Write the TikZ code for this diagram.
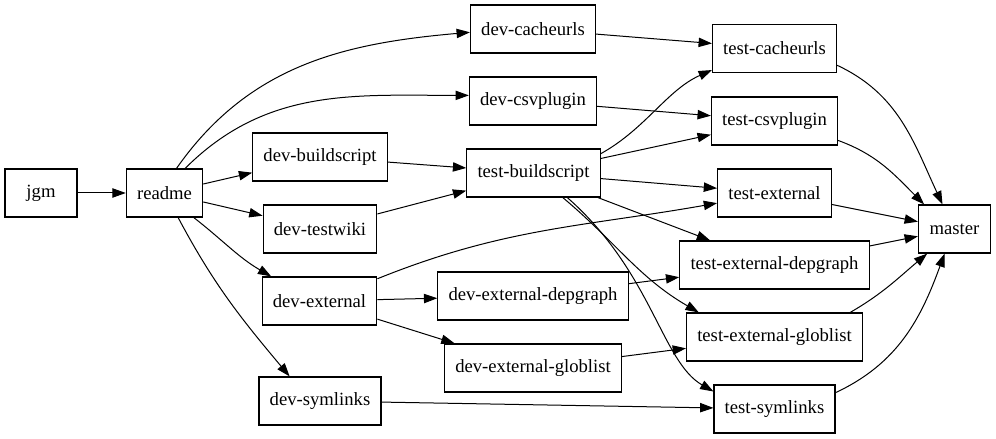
\documentclass[tikz,border=0pt]{standalone}
\usepackage{fontspec}
\setmainfont{Liberation Serif}
\usepackage{tikz}
\usetikzlibrary{arrows.meta}
\tikzset{
  box/.style={draw, line width=0.9pt, minimum width=54pt, minimum height=36pt,
    inner xsep=8pt, font=\fontsize{14}{16}\selectfont},
  edge/.style={line width=0.75pt, -{Triangle[length=10pt,width=7pt]}}
}
\begin{document}
\begin{tikzpicture}[x=0.75pt,y=0.75pt]
\useasboundingbox (0,0) rectangle (996,439);
% ranks from left to right
\node[box] (jgm) at (41,246) {jgm};
\node[box] (readme) at (164.5,246) {readme};
\node[box] (devbuild) at (320,282) {dev-buildscript};
\node[box] (devwiki) at (320,210) {dev-testwiki};
\node[box] (devext) at (319.5,138) {dev-external};
\node[box] (devsym) at (320,38) {dev-symlinks};
\node[box] (devcache) at (533,410) {dev-cacheurls};
\node[box] (devcsv) at (533,338) {dev-csvplugin};
\node[box] (testbuild) at (533.5,266) {test-buildscript};
\node[box] (devdep) at (533,143) {dev-external-depgraph};
\node[box] (devglob) at (533,71) {dev-external-globlist};
\node[box] (testcache) at (774.5,390.5) {test-cacheurls};
\node[box] (testcsv) at (774.5,318) {test-csvplugin};
\node[box] (testext) at (774.5,246) {test-external};
\node[box] (testdep) at (774.5,174) {test-external-depgraph};
\node[box] (testglob) at (774.5,102) {test-external-globlist};
\node[box] (testsym) at (774.5,30) {test-symlinks};
\node[box] (master) at (954.5,210) {master};
% straight edges
\draw[edge] (jgm) -- (readme);
\draw[edge] (readme) -- (devbuild);
\draw[edge] (readme) -- (devwiki);
\draw[edge] (devbuild) -- (testbuild);
\draw[edge] (devwiki) -- (testbuild);
\draw[edge] (devcache) -- (testcache);
\draw[edge] (devcsv) -- (testcsv);
\draw[edge] (testbuild) -- (testcsv);
\draw[edge] (testbuild) -- (testext);
\draw[edge] (testbuild) -- (testdep);
\draw[edge] (devext) -- (devdep);
\draw[edge] (devext) -- (devglob);
\draw[edge] (devdep) -- (testdep);
\draw[edge] (devglob) -- (testglob);
\draw[edge] (devsym) -- (testsym);
\draw[edge] (testext) -- (master);
\draw[edge] (testdep) -- (master);
% curved edges
\draw[edge] (readme.64) to[out=55,in=185] (devcache.183);
\draw[edge] (readme.50) to[out=45,in=180] (devcsv.175);
\draw[edge] (readme.-40) to[out=-38,in=150] (devext.153);
\draw[edge] (readme.-61) to[out=-62,in=130] (devsym.141);
\draw[edge] (testbuild.16) .. controls +(45,25) and +(-45,-20) .. (testcache.199);
\draw[edge] (testbuild.-40) to[out=-40,in=150] (testglob.162);
\draw[edge] (testbuild.-36) .. controls +(85,-75) and +(-52,30) .. (testsym.164);
\draw[edge] (devext.21) to[out=22,in=190] (testext.190);
\draw[edge] (testcache.-15) to[out=-25,in=115] (master.116);
\draw[edge] (testcsv.-17) to[out=-20,in=135] (master.141);
\draw[edge] (testglob.18) to[out=30,in=-140] (master.222);
\draw[edge] (testsym.15) to[out=25,in=-110] (master.248);
\end{tikzpicture}
\end{document}
